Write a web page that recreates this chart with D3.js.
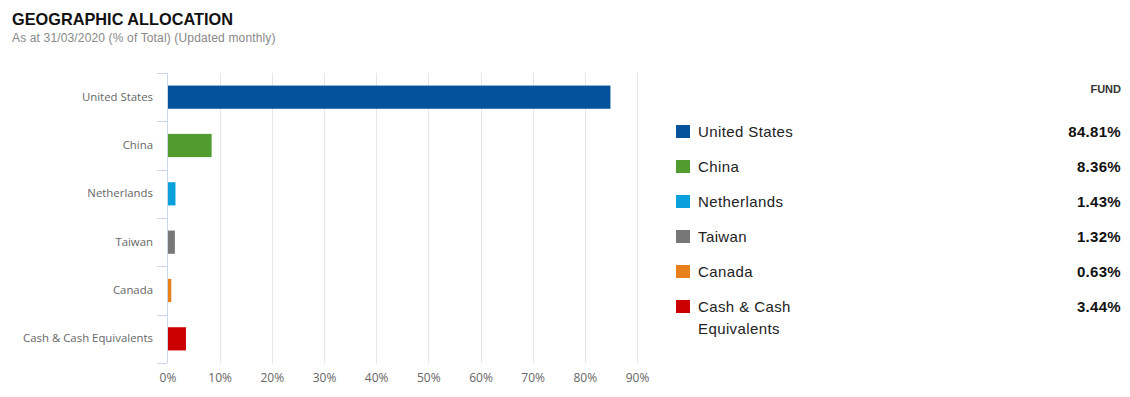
<!DOCTYPE html>
<html><head><meta charset="utf-8">
<script src="https://cdn.jsdelivr.net/npm/d3@7"></script>
<style>
html,body{margin:0;padding:0;background:#fff;}
svg{display:block;}
</style></head>
<body>
<svg id="chart" width="1130" height="397"></svg>
<script>
const categories = ["United States","China","Netherlands","Taiwan","Canada","Cash & Cash Equivalents"];
const values = [84.81, 8.36, 1.43, 1.32, 0.63, 3.44];
const colors = ["#03529a","#509c2f","#0aa0dc","#777777","#e8801b","#cc0000"];
const legendLines = [["United States"],["China"],["Netherlands"],["Taiwan"],["Canada"],["Cash & Cash","Equivalents"]];
const valueLabels = ["84.81%","8.36%","1.43%","1.32%","0.63%","3.44%"];
const xTicks = [0,10,20,30,40,50,60,70,80,90];

const svg = d3.select("#chart");
// Title
svg.append("text").attr("x",12).attr("y",25)
  .attr("font-family","Liberation Sans, Arial, sans-serif").attr("font-weight","bold")
  .attr("font-size",17).attr("fill","#111")
  .attr("textLength",221).attr("lengthAdjust","spacingAndGlyphs")
  .text("GEOGRAPHIC ALLOCATION");
svg.append("text").attr("x",12).attr("y",42)
  .attr("font-family","Liberation Sans, Arial, sans-serif")
  .attr("font-size",12).attr("fill","#888").attr("letter-spacing","0.15px")
  .text("As at 31/03/2020 (% of Total) (Updated monthly)");

const x = d3.scaleLinear().domain([0,90]).range([167.5,637]);
const y = d3.scaleBand().domain(categories).range([73,363]).paddingInner(0.52).paddingOuter(0.26);

// gridlines
svg.append("g").selectAll("line").data(xTicks.filter(d=>d>0)).join("line")
  .attr("x1",d=>Math.round(x(d))+0.5).attr("x2",d=>Math.round(x(d))+0.5)
  .attr("y1",73).attr("y2",363).attr("stroke","#e6e6e6").attr("stroke-width",1);

// x axis labels
const xAxis = d3.axisBottom(x).tickValues(xTicks).tickSize(0).tickPadding(0).tickFormat(d=>d+"%");
const gx = svg.append("g").attr("transform","translate(0,382)").call(xAxis);
gx.select(".domain").remove();
gx.selectAll("text").attr("font-family","Open Sans, sans-serif").attr("font-size",12).attr("fill","#666").attr("dy",0);

// left axis line & boundary ticks
const step = y.step();
const bounds = d3.range(categories.length+1).map(i=>73+i*step);
svg.append("g").selectAll("line").data(bounds).join("line")
  .attr("x1",157).attr("x2",167).attr("y1",d=>Math.round(d)+0.5).attr("y2",d=>Math.round(d)+0.5)
  .attr("stroke","#ccd6eb");
svg.append("line").attr("x1",167.5).attr("x2",167.5).attr("y1",73).attr("y2",363).attr("stroke","#ccd6eb");

const yAxis = d3.axisLeft(y).tickSize(0).tickPadding(0);
const gy = svg.append("g").attr("transform","translate(153,0)").call(yAxis);
gy.select(".domain").remove();
gy.selectAll("text").attr("font-family","Open Sans, sans-serif").attr("font-size",11.4).attr("fill","#666");

// bars
svg.append("g").selectAll("rect").data(categories).join("rect")
  .attr("x",x(0)+0.5).attr("y",d=>y(d))
  .attr("width",(d,i)=>Math.max(0,x(values[i])-x(0)))
  .attr("height",y.bandwidth())
  .attr("fill",(d,i)=>colors[i]);

// legend table
svg.append("text").attr("x",1121).attr("y",93).attr("text-anchor","end")
  .attr("font-family","Liberation Sans, Arial, sans-serif").attr("font-weight","bold")
  .attr("font-size",11).attr("fill","#333").text("FUND");

const rowY = d3.scaleLinear().domain([0,1]).range([131,166]);
const lg = svg.append("g");
categories.forEach((c,i)=>{
  const cy = rowY(i);
  lg.append("rect").attr("x",676).attr("y",cy-6).attr("width",14).attr("height",13).attr("fill",colors[i]);
  const t = lg.append("text").attr("x",698).attr("y",cy+5.5)
    .attr("font-family","Liberation Sans, Arial, sans-serif").attr("font-size",15)
    .attr("letter-spacing","0.4px").attr("fill","#222");
  legendLines[i].forEach((ln,j)=>{
    t.append("tspan").attr("x",698).attr("dy",j===0?0:22).text(ln);
  });
  lg.append("text").attr("x",1121).attr("y",cy+5.5).attr("text-anchor","end")
    .attr("font-family","Liberation Sans, Arial, sans-serif").attr("font-weight","bold")
    .attr("font-size",15).attr("letter-spacing","0.3px").attr("fill","#111").text(valueLabels[i]);
});
</script>
</body></html>
